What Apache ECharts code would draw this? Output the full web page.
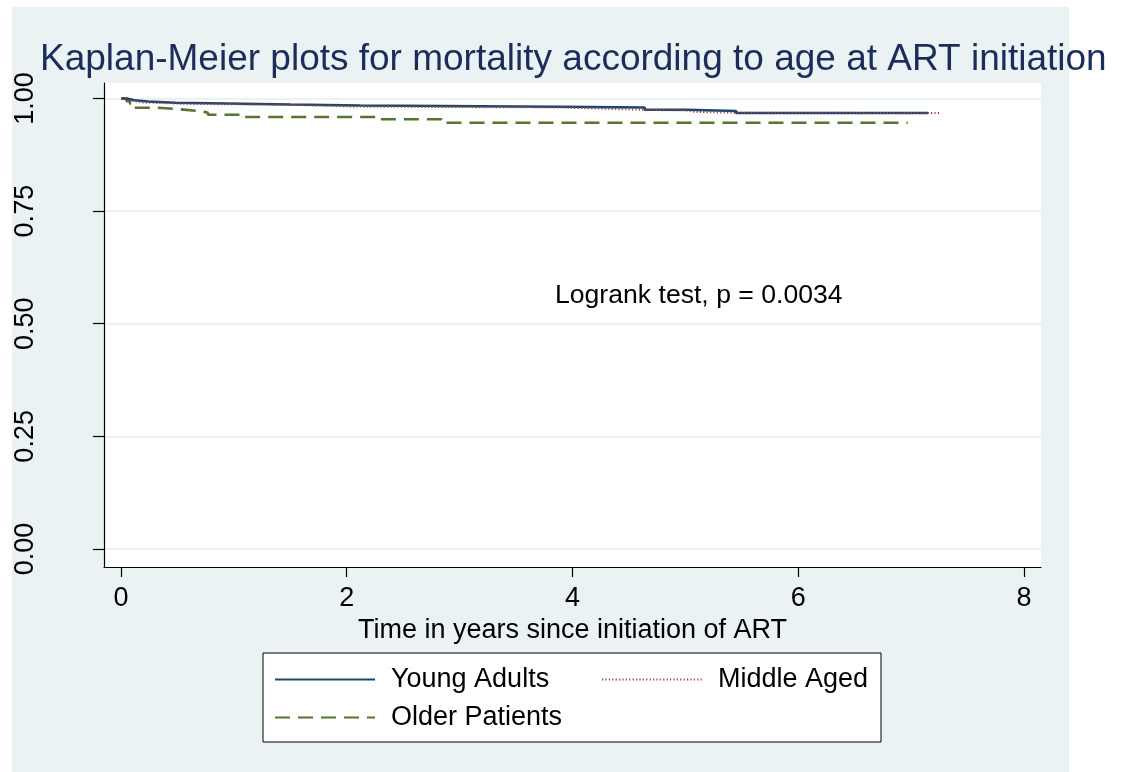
<!DOCTYPE html>
<html>
<head>
<meta charset="utf-8">
<script src="https://cdn.jsdelivr.net/npm/echarts@6/dist/echarts.min.js"></script>
<style>
  html, body { margin: 0; padding: 0; background: #fff; }
  #chart { width: 1125px; height: 772px; }
</style>
</head>
<body>
<div id="chart"></div>
<script>
// Kaplan-Meier estimates (time in years, survival)
var youngTime = [0, 0.05, 0.12, 0.24, 0.48, 0.94, 1.50, 2.12, 3.89, 4.64, 5.01, 5.45, 7.15]
var youngSurv = [1, 0.9962, 0.9933, 0.9905, 0.9889, 0.9867, 0.9845, 0.9816, 0.9800, 0.9751, 0.9723, 0.9678, 0.9678]

var middleTime = [0, 0.04, 0.10, 0.20, 0.60, 1.50, 2.10, 3.90, 4.45, 5.01, 5.10, 5.45, 7.25]
var middleSurv = [1, 0.995, 0.991, 0.988, 0.986, 0.982, 0.980, 0.976, 0.973, 0.970, 0.9685, 0.9678, 0.9678]

var olderTime = [0, 0.05, 0.08, 0.12, 0.32, 0.52, 0.72, 0.77, 1.08, 2.26, 2.84, 6.97]
var olderSurv = [1, 0.9938, 0.9885, 0.9796, 0.9760, 0.9716, 0.9685, 0.9640, 0.9589, 0.9538, 0.9463, 0.9463]

var xTicks = [0, 2, 4, 6, 8]
var yTicks = [0, 0.25, 0.5, 0.75, 1]

var font = 'Liberation Sans, Arial, Helvetica, sans-serif'
var fs = 27

function pairs(t, s) {
    var out = []
    for (var i = 0; i < t.length; i++) out.push([t[i], s[i]])
    return out
}

var chart = echarts.init(document.getElementById('chart'))

var option = {
    backgroundColor: '#ffffff',
    animation: false,
    title: {
        text: 'Kaplan-Meier plots for mortality according to age at ART initiation',
        left: 40,
        top: 41,
        padding: 0,
        textStyle: { fontFamily: font, fontSize: 37, fontWeight: 'normal', color: '#1c2d5b' }
    },
    graphic: [
        {
            type: 'rect', z: -100, silent: true,
            shape: { x: 12, y: 7, width: 1057, height: 765 },
            style: { fill: '#eaf2f3' }
        },
        {
            type: 'text', z: 10, silent: true,
            x: 555, y: 296,
            style: { text: 'Logrank test, p = 0.0034', fontFamily: font, fontSize: 26.6, fill: '#000', verticalAlign: 'middle' }
        }
    ],
    grid: {
        left: 104, right: 84, top: 83, bottom: 205,
        show: true, backgroundColor: '#ffffff', borderWidth: 0
    },
    legend: {
        left: 263, top: 653, width: 600,
        padding: [13, 11, 11, 11],
        backgroundColor: '#ffffff', borderColor: '#000', borderWidth: 1,
        itemWidth: 100, itemHeight: 14, itemGap: 11,
        itemStyle: { opacity: 0 },
        textStyle: { fontFamily: font, fontSize: fs, color: '#000', lineHeight: 26, padding: [0, 0, 0, 11] },
        data: [
            { name: 'Young Adults', textStyle: { width: 199 } },
            { name: 'Middle Aged', textStyle: { width: 152 } },
            { name: 'Older Patients' }
        ]
    },
    xAxis: {
        type: 'value', min: -0.1506, max: 8.1506,
        name: 'Time in years since initiation of ART',
        nameLocation: 'middle', nameGap: 39,
        nameTextStyle: { fontFamily: font, fontSize: fs, color: '#000' },
        axisLine: { show: true, onZero: false, lineStyle: { color: '#000', width: 1.2 } },
        axisTick: { show: true, length: 10, customValues: xTicks, lineStyle: { color: '#000', width: 1.2 } },
        axisLabel: { customValues: xTicks, fontFamily: font, fontSize: fs, color: '#000', margin: 18 },
        splitLine: { show: false }
    },
    yAxis: {
        type: 'value', min: -0.040, max: 1.0344,
        axisLine: { show: true, onZero: false, lineStyle: { color: '#000', width: 1.2 } },
        axisTick: { show: true, length: 11, customValues: yTicks, lineStyle: { color: '#000', width: 1.2 } },
        axisLabel: {
            customValues: yTicks, rotate: 90, fontFamily: font, fontSize: fs, color: '#000', margin: 65,
            formatter: function (v) { return v.toFixed(2) }
        },
        splitLine: { show: true, lineStyle: { color: '#eaf2f3', width: 2 } }
    },
    series: [
        {
            name: 'Young Adults', type: 'line', step: 'end', symbol: 'none', z: 4,
            data: pairs(youngTime, youngSurv),
            itemStyle: { color: '#1a476f' },
            lineStyle: { color: '#1a476f', width: 2.6 }
        },
        {
            name: 'Middle Aged', type: 'line', step: 'end', symbol: 'none', z: 5,
            data: pairs(middleTime, middleSurv),
            itemStyle: { color: '#a8404a' },
            lineStyle: { color: '#a8404a', width: 2, type: [1.2, 2.2] }
        },
        {
            name: 'Older Patients', type: 'line', step: 'end', symbol: 'none', z: 3,
            data: pairs(olderTime, olderSurv),
            itemStyle: { color: '#55752f' },
            lineStyle: { color: '#55752f', width: 2.6, type: [15, 8] }
        }
    ]
}

chart.setOption(option)
</script>
</body>
</html>
